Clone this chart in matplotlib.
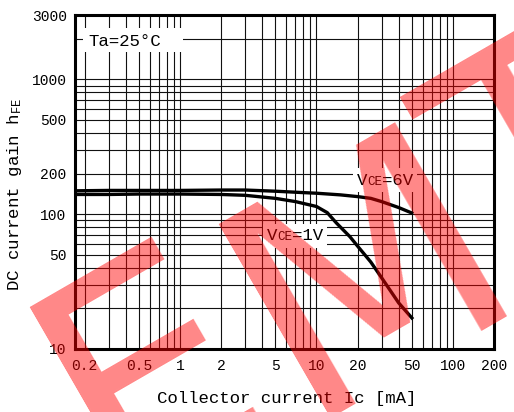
import numpy as np
import matplotlib
matplotlib.use("Agg")
import matplotlib.pyplot as plt
from matplotlib.ticker import LogLocator, NullFormatter, FixedLocator
from matplotlib.offsetbox import TextArea, HPacker, AnnotationBbox
from matplotlib.patches import Rectangle

# ---- data ----
ic_6v = [0.17, 0.3, 0.5, 1, 2, 3, 5, 8, 10, 15, 20, 25, 30, 40, 50]
hfe_6v = [149, 150, 150, 150, 151, 151, 148, 144.5, 143, 139, 135, 131, 124, 112, 102]

ic_1v = [0.17, 0.3, 0.5, 1, 2, 3, 5, 7, 10, 12, 14, 17.6, 20, 25, 30, 40, 50]
hfe_1v = [140, 140, 141, 141, 140, 138, 131, 124, 114, 102.6, 86, 68, 58, 44.2, 33.8, 22, 17]

xticks = [0.2, 0.5, 1, 2, 5, 10, 20, 50, 100, 200]
xticklabels = ["0.2", "0.5", "1", "2", "5", "10", "20", "50", "100", "200"]
yticks = [10, 50, 100, 200, 500, 1000, 3000]
yticklabels = ["10", "50", "100", "200", "500", "1000", "3000"]

xlabel = "Collector current Ic [mA]"
ylabel = r"DC current gain h$_{\mathrm{FE}}$"
label_6v = ("V", "CE", "=6V")
label_1v = ("V", "CE", "=1V")
temp_label = "Ta=25°C"
watermark = ["S", "E", "M", "T"]

plt.rcParams["font.family"] = ["Liberation Mono", "DejaVu Sans"]
plt.rcParams["mathtext.fontset"] = "custom"
plt.rcParams["mathtext.rm"] = "Liberation Mono"
plt.rcParams["mathtext.it"] = "Liberation Mono"

W, H = 514, 412
fig = plt.figure(figsize=(W / 100, H / 100), dpi=100)
ax = fig.add_axes([75 / W, 63 / H, 419 / W, 334 / H])
ax.set_xscale("log")
ax.set_yscale("log")
ax.set_xlim(0.17, 200)
ax.set_ylim(10, 3000)

ax.xaxis.set_major_locator(FixedLocator(xticks))
ax.set_xticklabels(xticklabels)
ax.yaxis.set_major_locator(FixedLocator(yticks))
ax.set_yticklabels(yticklabels)
for axis in (ax.xaxis, ax.yaxis):
    axis.set_minor_locator(LogLocator(base=10, subs=np.arange(1, 10), numticks=50))
    axis.set_minor_formatter(NullFormatter())
ax.tick_params(which="both", length=0, labelsize=10.5)
ax.tick_params(axis="x", pad=7)
ax.tick_params(axis="y", pad=6)

ax.grid(True, which="both", color="#111111", lw=0.8)
ax.set_axisbelow(True)
for s in ax.spines.values():
    s.set_linewidth(2.2)
    s.set_color("black")

ax.plot(ic_6v, hfe_6v, color="black", lw=2.4, zorder=3)
ax.plot(ic_1v, hfe_1v, color="black", lw=2.4, zorder=3)


def vce_label(parts, xy):
    kids = [TextArea(parts[0], textprops=dict(fontsize=12.5)),
            TextArea(parts[1], textprops=dict(fontsize=9)),
            TextArea(parts[2], textprops=dict(fontsize=12.5))]
    pack = HPacker(children=kids, align="baseline", pad=0, sep=0)
    ab = AnnotationBbox(pack, xy, xycoords="data", frameon=True, pad=0.3,
                        bboxprops=dict(fc="white", ec="none", boxstyle="square,pad=0.3"),
                        zorder=4)
    ax.add_artist(ab)


vce_label(label_6v, (31.8, 179))
vce_label(label_1v, (6.96, 68.9))

ax.add_patch(Rectangle((83 / W, 1 - 52 / H), 100 / W, 24 / H, transform=fig.transFigure,
                       fc="white", ec="none", zorder=2.5))
ax.text(0.39, 1893, temp_label, ha="center", va="center", fontsize=12.5, zorder=4)

fig.text(287 / W, 1 - 398 / H, xlabel, ha="center", va="center", fontsize=12.5)
fig.text(15 / W, 1 - 194 / H, ylabel, ha="center", va="center", fontsize=12.5, rotation=90)

# watermark (baseline centres in pixel coords)
wm_pos = [(29, 546), (196, 453), (415, 352), (593, 244)]
for ch, (px, py) in zip(watermark, wm_pos):
    fig.text(px / W, 1 - py / H, ch, fontsize=220, family="DejaVu Sans",
             color=(1, 0, 0, 0.47), rotation=30, rotation_mode="anchor",
             ha="center", va="baseline", zorder=10)

fig.savefig("out.png", dpi=100)
